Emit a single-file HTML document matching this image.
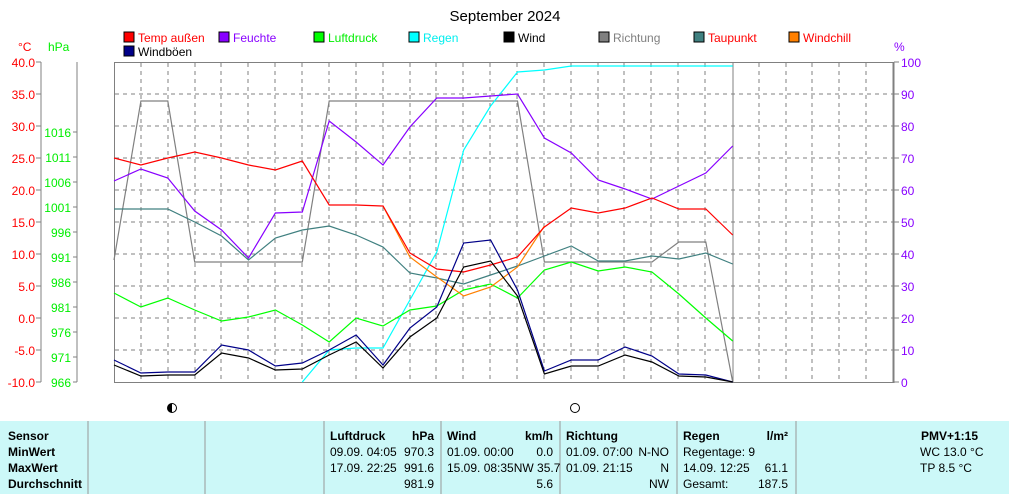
<!DOCTYPE html>
<html><head><meta charset="utf-8"><style>
body{margin:0;background:#fff;width:1009px;height:494px;overflow:hidden;font-family:"Liberation Sans",sans-serif}
svg text{font-family:"Liberation Sans",sans-serif}
.t{position:absolute;font-size:12px;line-height:15px;}
.b{font-weight:bold}
</style></head><body>
<svg width="1009" height="494" style="position:absolute;left:0;top:0">
<text x="505" y="21" font-size="15" text-anchor="middle">September 2024</text>
<g font-size="12">
<rect x="124" y="32" width="10" height="10" fill="#f00" stroke="#000"/><text x="138" y="42" fill="#f00">Temp außen</text>
<rect x="219" y="32" width="10" height="10" fill="#80f" stroke="#000"/><text x="233" y="42" fill="#80f">Feuchte</text>
<rect x="314" y="32" width="10" height="10" fill="#0f0" stroke="#000"/><text x="328" y="42" fill="#0e0">Luftdruck</text>
<rect x="409" y="32" width="10" height="10" fill="#0ff" stroke="#000"/><text x="423" y="42" fill="#0ee">Regen</text>
<rect x="504" y="32" width="10" height="10" fill="#000" stroke="#000"/><text x="518" y="42" fill="#000">Wind</text>
<rect x="599" y="32" width="10" height="10" fill="#808080" stroke="#000"/><text x="613" y="42" fill="#808080">Richtung</text>
<rect x="694" y="32" width="10" height="10" fill="#408080" stroke="#000"/><text x="708" y="42" fill="#f00">Taupunkt</text>
<rect x="789" y="32" width="10" height="10" fill="#ff8000" stroke="#000"/><text x="803" y="42" fill="#f00">Windchill</text>
<rect x="124" y="46" width="10" height="10" fill="#008" stroke="#000"/><text x="138" y="56" fill="#000">Windböen</text>
<text x="18" y="51" fill="#f00">°C</text><text x="48" y="51" fill="#0e0">hPa</text>
<text x="894" y="51" fill="#80f">%</text>
</g>
<!-- axes -->
<g stroke="#808080" fill="none">
<line x1="41" y1="62" x2="41" y2="382"/>
<line x1="77" y1="62" x2="77" y2="382"/>
<path d="M36 62h5M36 94h5M36 126h5M36 158h5M36 190h5M36 222h5M36 254h5M36 286h5M36 318h5M36 350h5M36 382h5"/>
<path d="M73 132h4M73 157h4M73 182h4M73 207h4M73 232h4M73 257h4M73 282h4M73 307h4M73 332h4M73 357h4M73 382h4"/>
<rect x="114.5" y="62.5" width="779" height="320"/>
<line x1="893.5" y1="62" x2="893.5" y2="383" stroke-width="2"/>
<path d="M894 62h5M894 94h5M894 126h5M894 158h5M894 190h5M894 222h5M894 254h5M894 286h5M894 318h5M894 350h5M894 382h5"/>
<line x1="733" y1="62" x2="733" y2="382"/>
<path stroke-dasharray="4,4" d="M141 63V382M168 63V382M195 63V382M221 63V382M248 63V382M275 63V382M302 63V382M329 63V382M356 63V382M383 63V382M410 63V382M436 63V382M463 63V382M490 63V382M517 63V382M544 63V382M571 63V382M598 63V382M624 63V382M651 63V382M678 63V382M705 63V382M759 63V382M786 63V382M812 63V382M839 63V382M866 63V382M115 94H893M115 126H893M115 158H893M115 190H893M115 222H893M115 254H893M115 286H893M115 318H893M115 350H893"/>
</g>
<g font-size="12" fill="#f00" text-anchor="end">
<text x="35" y="67">40.0</text><text x="35" y="99">35.0</text><text x="35" y="131">30.0</text><text x="35" y="163">25.0</text><text x="35" y="195">20.0</text><text x="35" y="227">15.0</text><text x="35" y="259">10.0</text><text x="35" y="291">5.0</text><text x="35" y="323">0.0</text><text x="35" y="355">-5.0</text><text x="35" y="387">-10.0</text>
</g>
<g font-size="12" fill="#0e0" text-anchor="end">
<text x="71" y="137">1016</text><text x="71" y="162">1011</text><text x="71" y="187">1006</text><text x="71" y="212">1001</text><text x="71" y="237">996</text><text x="71" y="262">991</text><text x="71" y="287">986</text><text x="71" y="312">981</text><text x="71" y="337">976</text><text x="71" y="362">971</text><text x="71" y="387">966</text>
</g>
<g font-size="12" fill="#80f">
<text x="901" y="67">100</text><text x="901" y="99">90</text><text x="901" y="131">80</text><text x="901" y="163">70</text><text x="901" y="195">60</text><text x="901" y="227">50</text><text x="901" y="259">40</text><text x="901" y="291">30</text><text x="901" y="323">20</text><text x="901" y="355">10</text><text x="901" y="387">0</text>
</g>
<g fill="none" stroke-width="1.2">
<polyline stroke="#808080" points="114,260 140.9,101 167.8,101 194.7,262 221.6,262 248.5,262 275.4,262 302.3,262 329.2,101 356.1,101 383,101 409.9,101 436.8,101 463.7,101 490.6,101 517.5,101 544.4,262 571.3,262 598.2,262 625.1,262 652,262 678.9,242 705.8,242 732.7,382"/>
<polyline stroke="#0ff" points="302.3,382 329.2,350 356.1,348 383,348 409.9,300 436.8,252 463.7,150 490.6,106 517.5,72 544.4,70 571.3,66 732.7,66"/>
<polyline stroke="#80f" points="114,181 140.9,169 167.8,178 194.7,211 221.6,230 248.5,258 275.4,213 302.3,212 329.2,121 356.1,142 383,165 409.9,127 436.8,98 463.7,98 490.6,96 517.5,94 544.4,138 571.3,153 598.2,180 625.1,189 652,199 678.9,186 705.8,173 732.7,146"/>
<polyline stroke="#0f0" points="114,293 140.9,307 167.8,298 194.7,310 221.6,321 248.5,317 275.4,310 302.3,325 329.2,342 356.1,318 383,326 409.9,310 436.8,306 463.7,290 490.6,284 517.5,298 544.4,270 571.3,262 598.2,271 625.1,267 652,272 678.9,294 705.8,318 732.7,341"/>
<polyline stroke="#408080" points="114,209 140.9,209 167.8,209 194.7,222 221.6,236 248.5,260 275.4,238 302.3,230 329.2,226 356.1,235 383,247 409.9,273 436.8,278 463.7,284 490.6,275 517.5,266 544.4,256 571.3,246 598.2,261 625.1,261 652,256 678.9,259 705.8,253 732.7,264"/>
<polyline stroke="#ff8000" points="383,206 409.9,257 436.8,277 463.7,296 490.6,287 517.5,267 544.4,226"/>
<polyline stroke="#f00" points="114,158 140.9,165 167.8,158 194.7,152 221.6,158 248.5,165 275.4,170 302.3,161 329.2,205 356.1,205 383,206 409.9,253 436.8,269 463.7,272 490.6,265 517.5,257 544.4,227 571.3,208 598.2,213 625.1,208 652,198 678.9,209 705.8,209 732.7,235"/>
<polyline stroke="#008" points="114,360 140.9,373 167.8,372 194.7,372 221.6,345 248.5,350 275.4,366 302.3,363 329.2,350 356.1,335 383,365 409.9,328 436.8,307 463.7,243 490.6,240 517.5,290 544.4,371 571.3,360 598.2,360 625.1,347 652,356 678.9,374 705.8,375 732.7,382"/>
<polyline stroke="#000" points="114,365 140.9,376 167.8,375 194.7,375 221.6,353 248.5,358 275.4,370 302.3,369 329.2,355 356.1,342 383,368 409.9,337 436.8,318 463.7,267 490.6,261 517.5,296 544.4,374 571.3,366 598.2,366 625.1,355 652,362 678.9,376 705.8,377 732.7,382"/>
</g>
<circle cx="172" cy="408" r="4.5" fill="#fff" stroke="#000"/><path d="M172 403.5a4.5 4.5 0 0 0 0 9z" fill="#000"/>
<circle cx="575" cy="408" r="4.5" fill="#fff" stroke="#000"/>
<rect x="0" y="421" width="1009" height="73" fill="#ccf8f8"/>
<g stroke="#999"><line x1="88" y1="421" x2="88" y2="494"/><line x1="205" y1="421" x2="205" y2="494"/><line x1="324" y1="421" x2="324" y2="494"/><line x1="441" y1="421" x2="441" y2="494"/><line x1="560" y1="421" x2="560" y2="494"/><line x1="677" y1="421" x2="677" y2="494"/><line x1="796" y1="421" x2="796" y2="494"/></g>
<g font-size="12">
<g font-weight="bold"><text x="8" y="440">Sensor</text><text x="8" y="456">MinWert</text><text x="8" y="472">MaxWert</text><text x="8" y="488">Durchschnitt</text>
<text x="330" y="440">Luftdruck</text><text x="434" y="440" text-anchor="end">hPa</text>
<text x="447" y="440">Wind</text><text x="553" y="440" text-anchor="end">km/h</text>
<text x="566" y="440">Richtung</text>
<text x="683" y="440">Regen</text><text x="788" y="440" text-anchor="end">l/m²</text>
<text x="978" y="440" text-anchor="end">PMV+1:15</text></g>
<text x="330" y="456">09.09.  04:05</text><text x="434" y="456" text-anchor="end">970.3</text>
<text x="330" y="472">17.09.  22:25</text><text x="434" y="472" text-anchor="end">991.6</text>
<text x="434" y="488" text-anchor="end">981.9</text>
<text x="447" y="456">01.09.  00:00</text><text x="553" y="456" text-anchor="end">0.0</text>
<text x="447" y="472">15.09.  08:35NW 35.7</text>
<text x="553" y="488" text-anchor="end">5.6</text>
<text x="566" y="456">01.09.  07:00</text><text x="669" y="456" text-anchor="end">N-NO</text>
<text x="566" y="472">01.09.  21:15</text><text x="669" y="472" text-anchor="end">N</text>
<text x="669" y="488" text-anchor="end">NW</text>
<text x="683" y="456">Regentage: 9</text>
<text x="683" y="472">14.09.  12:25</text><text x="788" y="472" text-anchor="end">61.1</text>
<text x="683" y="488">Gesamt:</text><text x="788" y="488" text-anchor="end">187.5</text>
<text x="920" y="456">WC 13.0 °C</text><text x="920" y="472">TP 8.5 °C</text>
</g>
</svg>
</body></html>
